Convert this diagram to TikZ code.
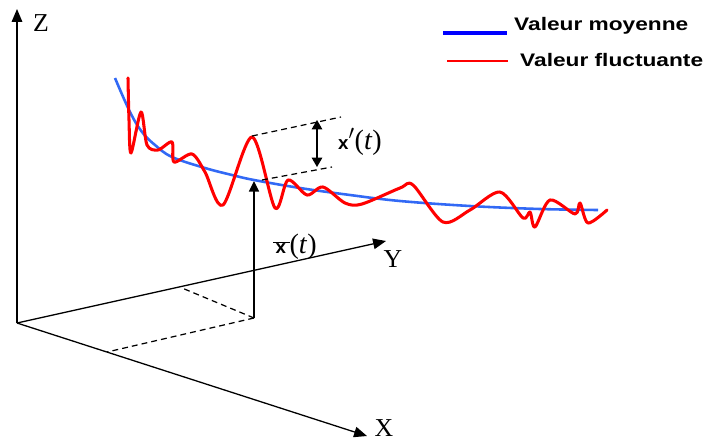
\documentclass[tikz,border=0pt]{standalone}
\usepackage{graphicx}
\usepackage{fontspec}
\setmainfont{Liberation Serif}
\newfontfamily\legfont{Liberation Sans}
\usetikzlibrary{arrows.meta}
\definecolor{meanblue}{RGB}{50,105,245}
\begin{document}
\begin{tikzpicture}[x=0.03cm,y=-0.03cm,
  axis/.style={line width=1.1pt,-{Triangle[length=11pt,width=9pt]}},
  axlab/.style={font=\fontsize{22}{22}\selectfont,inner sep=0pt},
  dashline/.style={line width=1.05pt,dash pattern=on 5pt off 3.5pt},
  meancurve/.style={meanblue,line width=2.2pt},
  fluccurve/.style={red,line width=2.6pt,line join=round,line cap=round},
  legtext/.style={anchor=west,inner sep=0pt,font=\legfont\bfseries\fontsize{15.5}{16}\selectfont},
  vlab/.style={inner sep=0pt,font=\fontsize{24}{24}\selectfont}]
\useasboundingbox (0,0) rectangle (705,441);

% axes
\coordinate (O) at (17,323);
\coordinate (Zend) at (17,9);
\coordinate (Xend) at (367,436);
\coordinate (Yend) at (386,241);
\draw[axis] (O) -- (Zend);
\draw[axis] (O) -- (Xend);
\draw[axis] (O) -- (Yend);
\node[axlab] (zlab) at (41,23) {Z};
\node[axlab] (xlab) at (384,428) {X};
\node[axlab] (ylab) at (393,259) {Y};

% ground projection
\coordinate (P) at (254,318);
\coordinate (Py) at (182,288);
\coordinate (Px) at (107,352);
\draw[dashline] (P) -- (Py);
\draw[dashline] (P) -- (Px);

% mean value arrow
\coordinate (M) at (254,181);
\draw[line width=1.1pt,-{Triangle[length=9pt,width=8.5pt]}] (P) -- (M);

% curves
\draw[meancurve] plot[smooth,tension=0.6] coordinates {
 (115,78) (130,112) (142,132) (155,145) (172,157) (205,168) (232,175)
 (254,180) (300,188) (350,195) (400,201) (470,206) (540,209) (598,210)};

\draw[fluccurve] plot[smooth,tension=0.5] coordinates {
 (128,78) (129,120) (131,153) (141,112) (147,145) (158,150) (172,142)
 (174,162) (192,154) (205,172) (223,205) (252,137) (275,208) (288,180)
 (307,195) (323,187) (345,203) (362,204) (400,188) (413,185) (443,222)
 (470,210) (500,192) (523,218) (530,212) (535,227) (550,200) (575,214)
 (580,203) (588,223) (607,210)};

% fluctuation
\coordinate (Tpk) at (252,136);
\coordinate (Tend) at (341,117);
\coordinate (Bst) at (262,180);
\coordinate (Bend) at (332,167);
\draw[dashline] (Tpk) -- (Tend);
\draw[dashline] (Bst) -- (Bend);
\coordinate (Da) at (317,120);
\coordinate (Db) at (317,167);
\draw[line width=1.1pt,{Triangle[length=8pt,width=9pt]}-{Triangle[length=8pt,width=9pt]}] (Da) -- (Db);

% labels
\node[vlab] (xplab) at (360,142) {{\legfont\bfseries\fontsize{16}{16}\selectfont x}$'$(\textit{t})};
\node[vlab] (xmlab) at (295,247) {$\overline{\hbox{\legfont\bfseries\fontsize{16}{16}\selectfont\kern2pt x\kern3pt}}$(\textit{t})};

% legend
\coordinate (L1a) at (443,33);
\coordinate (L1b) at (507,33);
\coordinate (L2a) at (447,61);
\coordinate (L2b) at (508,61);
\draw[blue,line width=2.6pt] (L1a) -- (L1b);
\draw[red,line width=2pt] (L2a) -- (L2b);
\node[legtext] (leg1) at (514,26) {\scalebox{1.25}[1]{Valeur moyenne}};
\node[legtext] (leg2) at (520,60) {\scalebox{1.25}[1]{Valeur fluctuante}};
\end{tikzpicture}
\end{document}
